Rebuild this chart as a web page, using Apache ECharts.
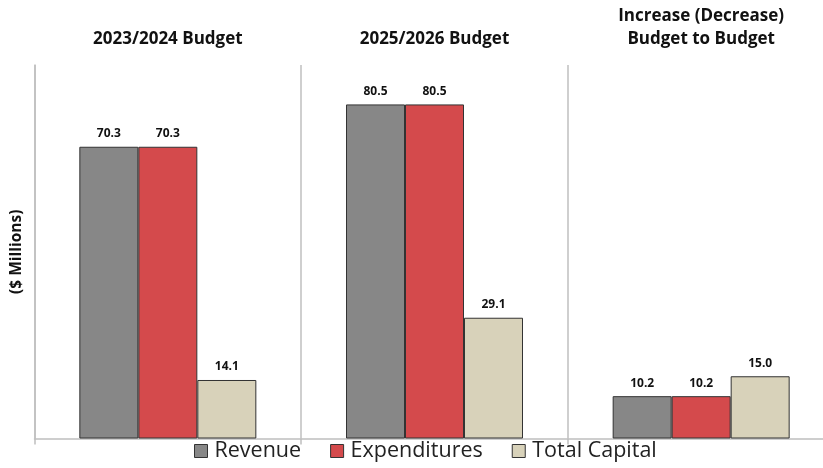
<!DOCTYPE html>
<html><head><meta charset="utf-8">
<script src="https://cdn.jsdelivr.net/npm/echarts@6/dist/echarts.min.js"></script>
<style>html,body{margin:0;padding:0;background:#fff}#c{width:823px;height:468px}</style>
</head><body><div id="c"></div>
<script>
const categories = ['2023/2024 Budget', '2025/2026 Budget', 'Increase (Decrease)\nBudget to Budget'];
const revenue = [70.3, 80.5, 10.2];
const expenditures = [70.3, 80.5, 10.2];
const totalCapital = [14.1, 29.1, 15.0];
const seriesNames = ['Revenue', 'Expenditures', 'Total Capital'];
const colors = ['#878787', '#d44a4c', '#d8d2ba'];
const FONT = 'Open Sans';

const chart = echarts.init(document.getElementById('c'));
const mk = (name, data, color) => ({
  name, type: 'bar', data, barWidth: 59, barGap: '0%',
  itemStyle: { color, borderColor: '#333', borderWidth: 1 },
  label: { show: true, position: 'top', distance: 7, formatter: p => p.value.toFixed(1),
    fontFamily: FONT, fontWeight: 'bold', fontSize: 12, color: '#111' }
});
chart.setOption({
  animation: false,
  textStyle: { fontFamily: FONT },
  grid: { left: 34.5, top: 65, width: 800, bottom: 29.5, containLabel: false, outerBoundsMode: 'none' },
  legend: {
    top: 440, left: 194, padding: 0, itemWidth: 13, itemHeight: 13, itemGap: 29, icon: 'rect',
    data: seriesNames,
    textStyle: { fontFamily: FONT, fontSize: 21.5, color: '#222', padding: [0, 0, 0, 2] },
    itemStyle: { borderColor: '#333', borderWidth: 1 }
  },
  xAxis: [
    { type: 'category', data: categories, position: 'bottom',
      axisLine: { lineStyle: { color: '#bfbfbf', width: 1.5 } },
      axisTick: { show: true, length: 6, lineStyle: { color: '#bfbfbf', width: 1.5 } },
      axisLabel: { show: false },
      splitLine: { show: true, lineStyle: { color: '#bfbfbf', width: 1.5 } } },
    { type: 'category', data: categories, position: 'top',
      axisLine: { show: false }, axisTick: { show: false },
      axisLabel: { margin: 14, fontFamily: FONT, fontWeight: 'bold', fontSize: 17, color: '#111', lineHeight: 23 } }
  ],
  yAxis: {
    type: 'value', min: 0, max: 90, name: '($ Millions)', nameLocation: 'middle', nameGap: 10,
    nameRotate: 90,
    nameTextStyle: { fontFamily: FONT, fontWeight: 'bold', fontSize: 15.5, color: '#111' },
    axisLine: { show: true, lineStyle: { color: '#bfbfbf', width: 1.5 } },
    axisTick: { show: false }, axisLabel: { show: false }, splitLine: { show: false }
  },
  series: [mk(seriesNames[0], revenue, colors[0]), mk(seriesNames[1], expenditures, colors[1]), mk(seriesNames[2], totalCapital, colors[2])]
});
</script></body></html>
